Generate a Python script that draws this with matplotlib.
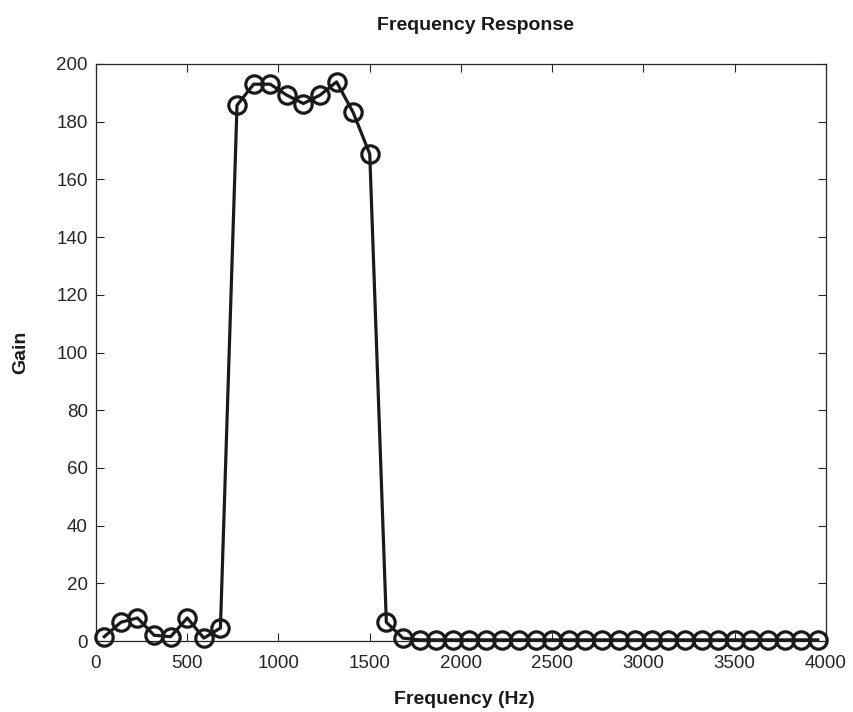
import numpy as np
import matplotlib
matplotlib.use("Agg")
import matplotlib.pyplot as plt

plt.rcParams['font.family'] = ['Liberation Sans', 'DejaVu Sans']

bin_width = 4000 / 44
freqs = [(k + 0.5) * bin_width for k in range(44)]
gain = [1.5, 6.5, 8, 2, 1.5, 8, 1, 4.5,
        185.7, 193, 193, 189.2, 186.3, 189.2, 193.8, 183.2, 168.8,
        6.5, 1.0] + [0.4] * 25

W, H = 854, 712
fig = plt.figure(figsize=(W / 100, H / 100), dpi=100)
ax = fig.add_axes([96 / W, 1 - 641 / H, 730 / W, 577 / H])
ax.plot(freqs, gain, color='#1a1a1a', lw=2.3, marker='o', markersize=12.5,
        markerfacecolor='none', markeredgewidth=2.3, markeredgecolor='#1a1a1a',
        clip_on=False, zorder=3)
ax.set_xlim(0, 4000)
ax.set_ylim(0, 200)
ax.set_xticks(np.arange(0, 4001, 500))
ax.set_yticks(np.arange(0, 201, 20))
ax.tick_params(direction='in', top=True, right=True, labelsize=13.5, length=6,
               width=0.8, colors='#262626', pad=6)
ax.tick_params(axis='x', pad=10)
for s in ax.spines.values():
    s.set_linewidth(0.9)
    s.set_color('#262626')
fig.text(476 / W, 1 - 25 / H, 'Frequency Response', fontsize=14, fontweight='bold',
         ha='center', va='center', color='#1a1a1a')
fig.text(464 / W, 1 - 699 / H, 'Frequency (Hz)', fontsize=14, fontweight='bold',
         ha='center', va='center', color='#1a1a1a')
fig.text(21 / W, 1 - 352 / H, 'Gain', fontsize=14, fontweight='bold',
         ha='center', va='center', rotation=90, color='#1a1a1a')
fig.savefig('out.png', dpi=100)
